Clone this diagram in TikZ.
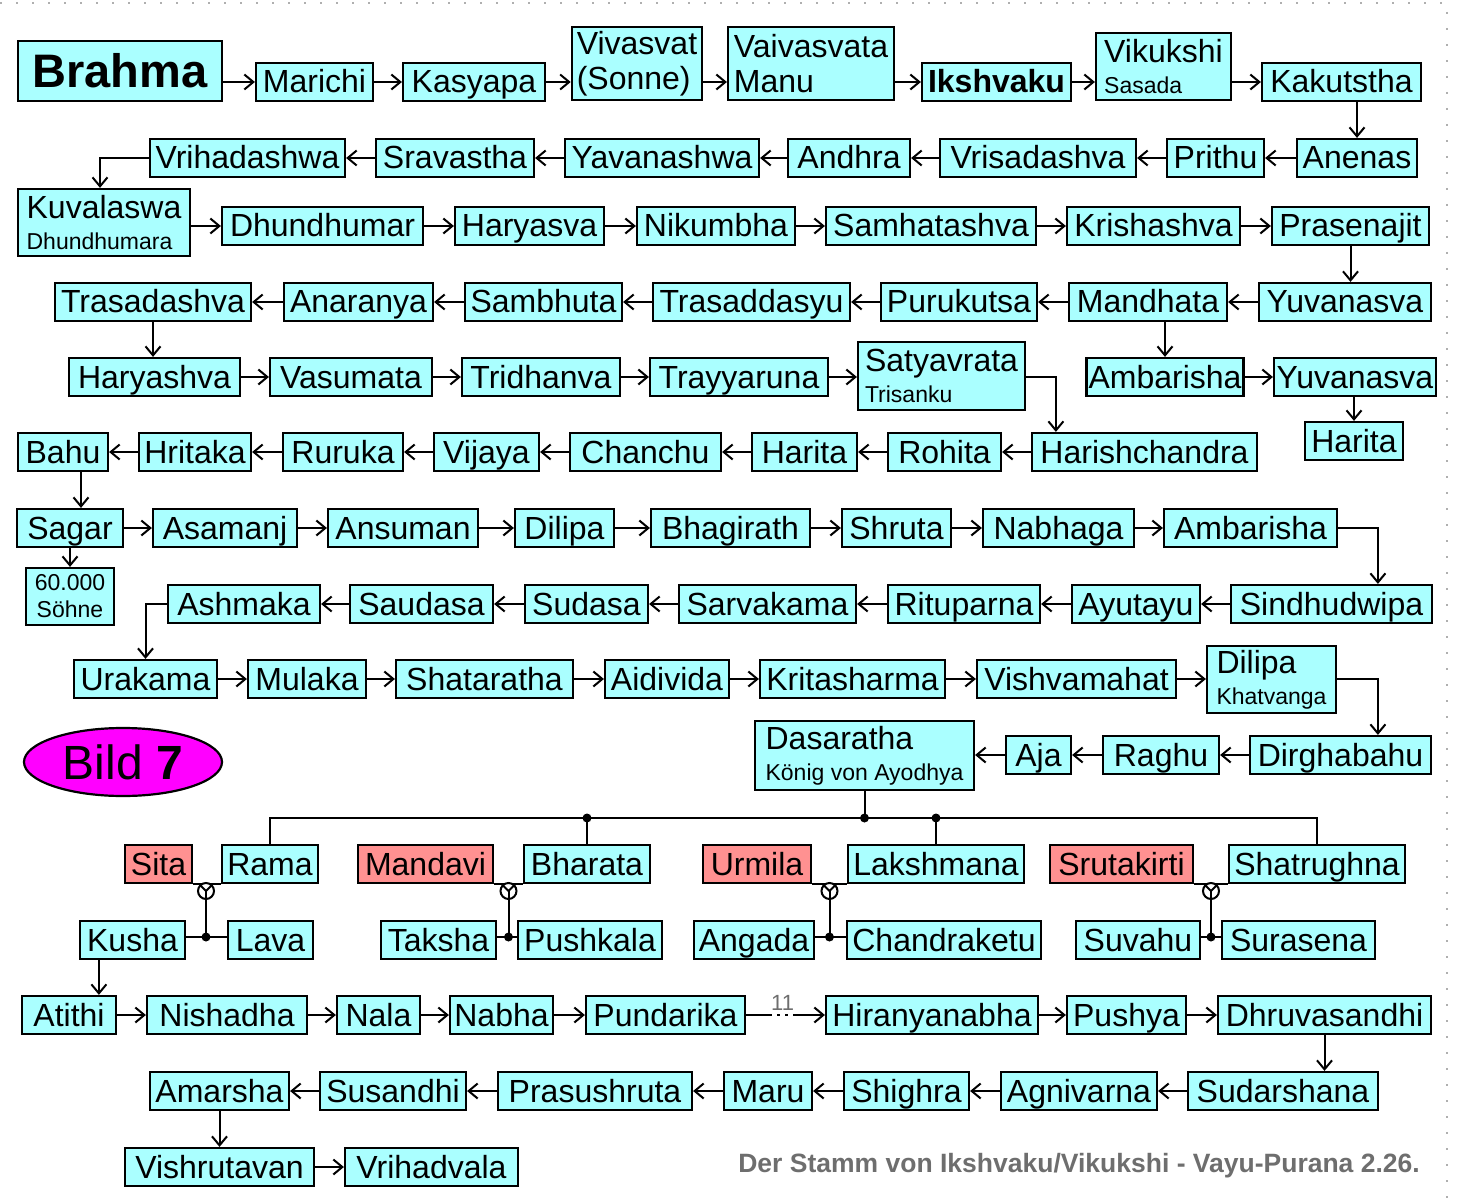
\documentclass[tikz,border=0pt]{standalone}
\usepackage{fontspec}
\setmainfont{Liberation Sans}
\usetikzlibrary{arrows.meta,shapes.geometric}
\tikzset{>={Straight Barb[length=9pt,width=15pt]}}

\definecolor{famcyan}{RGB}{170,255,255}
\definecolor{famred}{RGB}{255,145,145}
\definecolor{bildpink}{RGB}{255,0,255}
\definecolor{rimgray}{RGB}{175,175,175}
\definecolor{capgray}{RGB}{110,110,110}

\newcommand\namefont{\fontsize{32}{35}\selectfont}
\newcommand\notefont{\fontsize{23}{27}\selectfont}

\tikzset{
  link/.style={line width=2pt},
  fam/.style={draw, line width=2.2pt, fill=famcyan, inner xsep=2pt, inner ysep=3.5pt, minimum height=38pt, text height=26.5pt, text depth=4.5pt, font=\namefont},
  fam2/.style={fam, align=left, text height=, text depth=, inner xsep=5pt, inner ysep=2pt},
  wife/.style={fam, fill=famred},
  wed/.style={circle, draw, line width=2pt, fill=white, minimum size=16pt, inner sep=0pt},
  knot/.style={circle, fill, inner sep=0pt, minimum size=9pt}
}

\begin{document}
\begin{tikzpicture}[x=1pt, y=-1pt]
  \useasboundingbox (0,0) rectangle (1462,1198);
  \draw[rimgray, line width=2pt, dash pattern=on 2pt off 14pt] (0,3) -- (1447,3) -- (1447,1198);

  % row 1
  \node[fam, minimum width=204pt, minimum height=60pt, font=\fontsize{47}{50}\selectfont\bfseries, text height=39pt, text depth=5pt, inner ysep=8pt] (brahma) at (120,71) {Brahma};
  \node[fam, minimum width=117pt] (marichi) at (314.5,82) {Marichi};
  \node[fam, minimum width=142pt] (kasyapa) at (474,82) {Kasyapa};
  \node[fam2, minimum width=130pt, minimum height=73pt] (vivasvat) at (637,63.5) {Vivasvat\\(Sonne)};
  \node[fam2, minimum width=166pt, minimum height=73pt] (vaivasvata) at (811,63.5) {Vaivasvata\\Manu};
  \node[fam, minimum width=149pt, font=\namefont\bfseries] (ikshvaku) at (996.5,82) {Ikshvaku};
  \node[fam2, minimum width=135pt, minimum height=67pt] (vikukshi) at (1163.5,66.5) {Vikukshi\\[-4pt]{\notefont Sasada}};
  \node[fam, minimum width=159pt] (kakutstha) at (1341.5,82) {Kakutstha};
  \draw[link, ->] (brahma.east |- marichi.west) -- (marichi.west);
  \draw[link, ->] (marichi) -- (kasyapa);
  \draw[link, ->] (kasyapa.east) -- (kasyapa.east -| vivasvat.west);
  \draw[link, ->] (vivasvat.east |- kasyapa) -- (vaivasvata.west |- kasyapa);
  \draw[link, ->] (vaivasvata.east |- ikshvaku) -- (ikshvaku.west);
  \draw[link, ->] (ikshvaku.east) -- (ikshvaku.east -| vikukshi.west);
  \draw[link, ->] (vikukshi.east |- kakutstha) -- (kakutstha.west);

  % row 2
  \node[fam, minimum width=120pt] (anenas) at (1357,158) {Anenas};
  \node[fam, minimum width=97pt] (prithu) at (1215.5,158) {Prithu};
  \node[fam, minimum width=196pt] (vrisadashva) at (1038,158) {Vrisadashva};
  \node[fam, minimum width=122pt] (andhra) at (849,158) {Andhra};
  \node[fam, minimum width=194pt] (yavanashwa) at (662,158) {Yavanashwa};
  \node[fam, minimum width=158pt] (sravastha) at (455,158) {Sravastha};
  \node[fam, minimum width=195pt] (vrihadashwa) at (247.5,158) {Vrihadashwa};
  \draw[link, ->] (kakutstha.south -| anenas) -- (anenas.north);
  \draw[link, ->] (anenas) -- (prithu);
  \draw[link, ->] (prithu) -- (vrisadashva);
  \draw[link, ->] (vrisadashva) -- (andhra);
  \draw[link, ->] (andhra) -- (yavanashwa);
  \draw[link, ->] (yavanashwa) -- (sravastha);
  \draw[link, ->] (sravastha) -- (vrihadashwa);

  % row 3
  \node[fam2, minimum width=172pt, minimum height=67pt] (kuvalaswa) at (104,222.5) {Kuvalaswa\\[-4pt]{\notefont Dhundhumara}};
  \node[fam, minimum width=201pt] (dhundhumar) at (322.5,226) {Dhundhumar};
  \node[fam, minimum width=149pt] (haryasva) at (529.5,226) {Haryasva};
  \node[fam, minimum width=158pt] (nikumbha) at (716,226) {Nikumbha};
  \node[fam, minimum width=210pt] (samhatashva) at (931,226) {Samhatashva};
  \node[fam, minimum width=173pt] (krishashva) at (1153.5,226) {Krishashva};
  \node[fam, minimum width=157pt] (prasenajit) at (1350.5,226) {Prasenajit};
  \draw[link, ->] (vrihadashwa.west) -| ([xshift=-4pt]kuvalaswa.north);
  \draw[link, ->] (kuvalaswa.east |- dhundhumar) -- (dhundhumar.west);
  \draw[link, ->] (dhundhumar) -- (haryasva);
  \draw[link, ->] (haryasva) -- (nikumbha);
  \draw[link, ->] (nikumbha) -- (samhatashva);
  \draw[link, ->] (samhatashva) -- (krishashva);
  \draw[link, ->] (krishashva) -- (prasenajit);

  % row 4
  \node[fam, minimum width=172pt] (yuvanasvaa) at (1345,302) {Yuvanasva};
  \node[fam, minimum width=158pt] (mandhata) at (1148,302) {Mandhata};
  \node[fam, minimum width=156pt] (purukutsa) at (959,302) {Purukutsa};
  \node[fam, minimum width=197pt] (trasaddasyu) at (751.5,302) {Trasaddasyu};
  \node[fam, minimum width=157pt] (sambhuta) at (543.5,302) {Sambhuta};
  \node[fam, minimum width=149pt] (anaranya) at (358.5,302) {Anaranya};
  \node[fam, minimum width=196pt] (trasadashva) at (153,302) {Trasadashva};
  \draw[link, ->] (prasenajit.south) -- (prasenajit.south |- yuvanasvaa.north);
  \draw[link, ->] (yuvanasvaa) -- (mandhata);
  \draw[link, ->] (mandhata) -- (purukutsa);
  \draw[link, ->] (purukutsa) -- (trasaddasyu);
  \draw[link, ->] (trasaddasyu) -- (sambhuta);
  \draw[link, ->] (sambhuta) -- (anaranya);
  \draw[link, ->] (anaranya) -- (trasadashva);

  % row 5
  \node[fam, minimum width=171pt] (haryashva) at (154.5,377) {Haryashva};
  \node[fam, minimum width=162pt] (vasumata) at (351,377) {Vasumata};
  \node[fam, minimum width=158pt] (tridhanva) at (541,377) {Tridhanva};
  \node[fam, minimum width=178pt] (trayyaruna) at (739,377) {Trayyaruna};
  \node[fam2, minimum width=167pt, minimum height=68pt] (satyavrata) at (941.5,376) {Satyavrata\\[-4pt]{\notefont Trisanku}};
  \node[fam, minimum width=156pt] (ambarishaa) at (1165,377) {Ambarisha};
  \node[fam, minimum width=162pt] (yuvanasvab) at (1355,377) {Yuvanasva};
  \node[fam, minimum width=98pt] (haritaa) at (1354,441) {Harita};
  \draw[link, ->] (trasadashva.south) -- (trasadashva.south |- haryashva.north);
  \draw[link, ->] (haryashva) -- (vasumata);
  \draw[link, ->] (vasumata) -- (tridhanva);
  \draw[link, ->] (tridhanva) -- (trayyaruna);
  \draw[link, ->] (trayyaruna.east) -- (trayyaruna.east -| satyavrata.west);
  \draw[link, ->] (mandhata.south -| ambarishaa) -- (ambarishaa.north);
  \draw[link, ->] (ambarishaa) -- (yuvanasvab);
  \draw[link, ->] (yuvanasvab.south -| haritaa) -- (haritaa.north);

  % row 6
  \node[fam, minimum width=225pt] (harishchandra) at (1144.5,452) {Harishchandra};
  \node[fam, minimum width=113pt] (rohita) at (944.5,452) {Rohita};
  \node[fam, minimum width=105pt] (haritab) at (804.5,452) {Harita};
  \node[fam, minimum width=151pt] (chanchu) at (645.5,452) {Chanchu};
  \node[fam, minimum width=105pt] (vijaya) at (486.5,452) {Vijaya};
  \node[fam, minimum width=120pt] (ruruka) at (343,452) {Ruruka};
  \node[fam, minimum width=112pt] (hritaka) at (195,452) {Hritaka};
  \node[fam, minimum width=90pt] (bahu) at (63,452) {Bahu};
  \draw[link, ->] (satyavrata.east |- trayyaruna) -| ([xshift=25pt]harishchandra.north west);
  \draw[link, ->] (harishchandra) -- (rohita);
  \draw[link, ->] (rohita) -- (haritab);
  \draw[link, ->] (haritab) -- (chanchu);
  \draw[link, ->] (chanchu) -- (vijaya);
  \draw[link, ->] (vijaya) -- (ruruka);
  \draw[link, ->] (ruruka) -- (hritaka);
  \draw[link, ->] (hritaka) -- (bahu);

  % row 7
  \node[fam, minimum width=106pt] (sagar) at (70,528) {Sagar};
  \node[fam, minimum width=144pt] (asamanj) at (225,528) {Asamanj};
  \node[fam, minimum width=150pt] (ansuman) at (403,528) {Ansuman};
  \node[fam, minimum width=99pt] (dilipaa) at (564.5,528) {Dilipa};
  \node[fam, minimum width=159pt] (bhagirath) at (730.5,528) {Bhagirath};
  \node[fam, minimum width=109pt] (shruta) at (896.5,528) {Shruta};
  \node[fam, minimum width=151pt] (nabhaga) at (1058.5,528) {Nabhaga};
  \node[fam, minimum width=173pt] (ambarishab) at (1250.5,528) {Ambarisha};
  \node[fam2, align=center, font=\notefont, minimum width=88pt, minimum height=57pt] (soehne) at (70,596.5) {60.000\\Söhne};
  \draw[link, ->] ([xshift=18pt]bahu.south) -- ([xshift=18pt]bahu.south |- sagar.north);
  \draw[link, ->] (sagar.south) -- (soehne.north);
  \draw[link, ->] (sagar) -- (asamanj);
  \draw[link, ->] (asamanj) -- (ansuman);
  \draw[link, ->] (ansuman) -- (dilipaa);
  \draw[link, ->] (dilipaa) -- (bhagirath);
  \draw[link, ->] (bhagirath) -- (shruta);
  \draw[link, ->] (shruta) -- (nabhaga);
  \draw[link, ->] (nabhaga) -- (ambarishab);

  % row 8
  \node[fam, minimum width=201pt] (sindhudwipa) at (1331.5,604) {Sindhudwipa};
  \node[fam, minimum width=128pt] (ayutayu) at (1136,604) {Ayutayu};
  \node[fam, minimum width=152pt] (rituparna) at (964,604) {Rituparna};
  \node[fam, minimum width=177pt] (sarvakama) at (767.5,604) {Sarvakama};
  \node[fam, minimum width=123pt] (sudasa) at (586.5,604) {Sudasa};
  \node[fam, minimum width=143pt] (saudasa) at (421.5,604) {Saudasa};
  \node[fam, minimum width=152pt] (ashmaka) at (244,604) {Ashmaka};
  \draw[link, ->] (ambarishab.east) -| ([xshift=148pt]sindhudwipa.north west);
  \draw[link, ->] (sindhudwipa) -- (ayutayu);
  \draw[link, ->] (ayutayu) -- (rituparna);
  \draw[link, ->] (rituparna) -- (sarvakama);
  \draw[link, ->] (sarvakama) -- (sudasa);
  \draw[link, ->] (sudasa) -- (saudasa);
  \draw[link, ->] (saudasa) -- (ashmaka);

  % row 9
  \node[fam, minimum width=143pt] (urakama) at (145.5,679) {Urakama};
  \node[fam, minimum width=118pt] (mulaka) at (307,679) {Mulaka};
  \node[fam, minimum width=177pt] (shataratha) at (484.5,679) {Shataratha};
  \node[fam, minimum width=124pt] (aidivida) at (667,679) {Aidivida};
  \node[fam, minimum width=185pt] (kritasharma) at (852.5,679) {Kritasharma};
  \node[fam, minimum width=199pt] (vishvamahat) at (1076.5,679) {Vishvamahat};
  \node[fam2, minimum width=129pt, minimum height=67pt] (dilipab) at (1271.5,679.5) {Dilipa\\[-4pt]{\notefont Khatvanga}};
  \draw[link, ->] (ashmaka.west) -| (urakama.north);
  \draw[link, ->] (urakama) -- (mulaka);
  \draw[link, ->] (mulaka) -- (shataratha);
  \draw[link, ->] (shataratha) -- (aidivida);
  \draw[link, ->] (aidivida) -- (kritasharma);
  \draw[link, ->] (kritasharma) -- (vishvamahat);
  \draw[link, ->] (vishvamahat.east) -- (vishvamahat.east -| dilipab.west);

  % row 10
  \node[fam, minimum width=181pt] (dirghabahu) at (1340.5,755) {Dirghabahu};
  \node[fam, minimum width=116pt] (raghu) at (1161,755) {Raghu};
  \node[fam, minimum width=65pt] (aja) at (1038.5,755) {Aja};
  \node[fam2, minimum width=219pt, minimum height=69pt] (dasaratha) at (864.5,755.5) {Dasaratha\\[-4pt]{\notefont König von Ayodhya}};
  \node[draw, ellipse, line width=2.2pt, fill=bildpink, minimum width=198pt, minimum height=68pt, inner sep=0pt, font=\fontsize{48}{50}\selectfont] (bild) at (123,762) {Bild \textbf{7}};
  \draw[link, ->] (dilipab.east |- vishvamahat) -| ([xshift=129pt]dirghabahu.north west);
  \draw[link, ->] (dirghabahu) -- (raghu);
  \draw[link, ->] (raghu) -- (aja);
  \draw[link, ->] (aja.west) -- (aja.west -| dasaratha.east);

  % sons of Dasaratha and their wives
  \node[wife, minimum width=67pt] (sita) at (158.5,864) {Sita};
  \node[fam, minimum width=96pt] (rama) at (270,864) {Rama};
  \node[wife, minimum width=135pt] (mandavi) at (425.5,864) {Mandavi};
  \node[fam, minimum width=126pt] (bharata) at (587,864) {Bharata};
  \node[wife, minimum width=108pt] (urmila) at (757,864) {Urmila};
  \node[fam, minimum width=176pt] (lakshmana) at (936,864) {Lakshmana};
  \node[wife, minimum width=143pt] (srutakirti) at (1121.5,864) {Srutakirti};
  \node[fam, minimum width=176pt] (shatrughna) at (1317,864) {Shatrughna};
  \coordinate (sib) at (0,818);
  \draw[link] (rama.north) |- (shatrughna.north |- sib) -- (shatrughna.north);
  \draw[link] (dasaratha.south) -- (dasaratha.south |- sib) node[knot] (sibd) {};
  \draw[link] (bharata.north) -- (bharata.north |- sib) node[knot] (sibb) {};
  \draw[link] (lakshmana.north) -- (lakshmana.north |- sib) node[knot] (sibl) {};

  % grandsons
  \node[fam, minimum width=105pt] (kusha) at (132.5,940) {Kusha};
  \node[fam, minimum width=85pt] (lava) at (270.5,940) {Lava};
  \node[fam, minimum width=115pt] (taksha) at (438.5,940) {Taksha};
  \node[fam, minimum width=144pt] (pushkala) at (590,940) {Pushkala};
  \node[fam, minimum width=120pt] (angada) at (754,940) {Angada};
  \node[fam, minimum width=194pt] (chandraketu) at (944,940) {Chandraketu};
  \node[fam, minimum width=124pt] (suvahu) at (1138,940) {Suvahu};
  \node[fam, minimum width=153pt] (surasena) at (1298.5,940) {Surasena};
  \coordinate (kid) at (0,937);

  \draw[link] (sita.south east) -- (rama.south west);
  \draw[link] (mandavi.south east) -- (bharata.south west);
  \draw[link] (urmila.south east) -- (lakshmana.south west);
  \draw[link] (srutakirti.south east) -- (shatrughna.south west);
  \node[wed] (weda) at (206,891) {};
  \node[wed] (wedb) at (508.5,891) {};
  \node[wed] (wedc) at (829.5,891) {};
  \node[wed] (wedd) at (1211,891) {};
  \draw[link] (weda.135) -- (weda.center) -- (weda.45);
  \draw[link] (wedb.135) -- (wedb.center) -- (wedb.45);
  \draw[link] (wedc.135) -- (wedc.center) -- (wedc.45);
  \draw[link] (wedd.135) -- (wedd.center) -- (wedd.45);
  \draw[link] (weda.center) -- (weda |- kid) node[knot] (kida) {};
  \draw[link] (wedb.center) -- (wedb |- kid) node[knot] (kidb) {};
  \draw[link] (wedc.center) -- (wedc |- kid) node[knot] (kidc) {};
  \draw[link] (wedd.center) -- (wedd |- kid) node[knot] (kidd) {};
  \draw[link] (kusha.east |- kid) -- (lava.west |- kid);
  \draw[link] (taksha.east |- kid) -- (pushkala.west |- kid);
  \draw[link] (angada.east |- kid) -- (chandraketu.west |- kid);
  \draw[link] (suvahu.east |- kid) -- (surasena.west |- kid);

  % row 13
  \node[fam, minimum width=94pt] (atithi) at (69,1015) {Atithi};
  \node[fam, minimum width=160pt] (nishadha) at (227,1015) {Nishadha};
  \node[fam, minimum width=83pt] (nala) at (378.5,1015) {Nala};
  \node[fam, minimum width=103pt] (nabha) at (501.5,1015) {Nabha};
  \node[fam, minimum width=159pt] (pundarika) at (665.5,1015) {Pundarika};
  \node[fam, minimum width=212pt] (hiranyanabha) at (932,1015) {Hiranyanabha};
  \node[fam, minimum width=119pt] (pushya) at (1126.5,1015) {Pushya};
  \node[fam, minimum width=213pt] (dhruvasandhi) at (1324.5,1015) {Dhruvasandhi};
  \draw[link, ->] ([xshift=20pt]kusha.south west) -- ([xshift=20pt]kusha.south west |- atithi.north);
  \draw[link, ->] (atithi) -- (nishadha);
  \draw[link, ->] (nishadha) -- (nala);
  \draw[link, ->] (nala) -- (nabha);
  \draw[link, ->] (nabha) -- (pundarika);
  \draw[link] (pundarika.east) -- ++(23,0) coordinate (gapa);
  \draw[link, dash pattern=on 3pt off 5pt] (gapa) -- node[above=4pt, inner sep=0pt, text=capgray, font=\fontsize{22}{24}\selectfont] (gen) {11} ++(27,0) coordinate (gapb);
  \draw[link, ->] (gapb) -- (hiranyanabha.west);
  \draw[link, ->] (hiranyanabha) -- (pushya);
  \draw[link, ->] (pushya) -- (dhruvasandhi);

  % row 14
  \node[fam, minimum width=190pt] (sudarshana) at (1283,1091) {Sudarshana};
  \node[fam, minimum width=156pt] (agnivarna) at (1079,1091) {Agnivarna};
  \node[fam, minimum width=125pt] (shighra) at (906.5,1091) {Shighra};
  \node[fam, minimum width=88pt] (maru) at (768,1091) {Maru};
  \node[fam, minimum width=194pt] (prasushruta) at (595,1091) {Prasushruta};
  \node[fam, minimum width=146pt] (susandhi) at (393,1091) {Susandhi};
  \node[fam, minimum width=139pt] (amarsha) at (219.5,1091) {Amarsha};
  \draw[link, ->] (dhruvasandhi.south) -- (dhruvasandhi.south |- sudarshana.north);
  \draw[link, ->] (sudarshana) -- (agnivarna);
  \draw[link, ->] (agnivarna) -- (shighra);
  \draw[link, ->] (shighra) -- (maru);
  \draw[link, ->] (maru) -- (prasushruta);
  \draw[link, ->] (prasushruta) -- (susandhi);
  \draw[link, ->] (susandhi) -- (amarsha);

  % row 15
  \node[fam, minimum width=189pt] (vishrutavan) at (219.5,1167) {Vishrutavan};
  \node[fam, minimum width=173pt] (vrihadvala) at (431.5,1167) {Vrihadvala};
  \draw[link, ->] (amarsha.south) -- (vishrutavan.north);
  \draw[link, ->] (vishrutavan) -- (vrihadvala);

  \node[anchor=east, inner sep=0pt, text=capgray, font=\fontsize{26.5}{28}\selectfont\bfseries] (caption) at (1420,1166) {Der Stamm von Ikshvaku/Vikukshi - Vayu-Purana 2.26.};
\end{tikzpicture}
\end{document}
